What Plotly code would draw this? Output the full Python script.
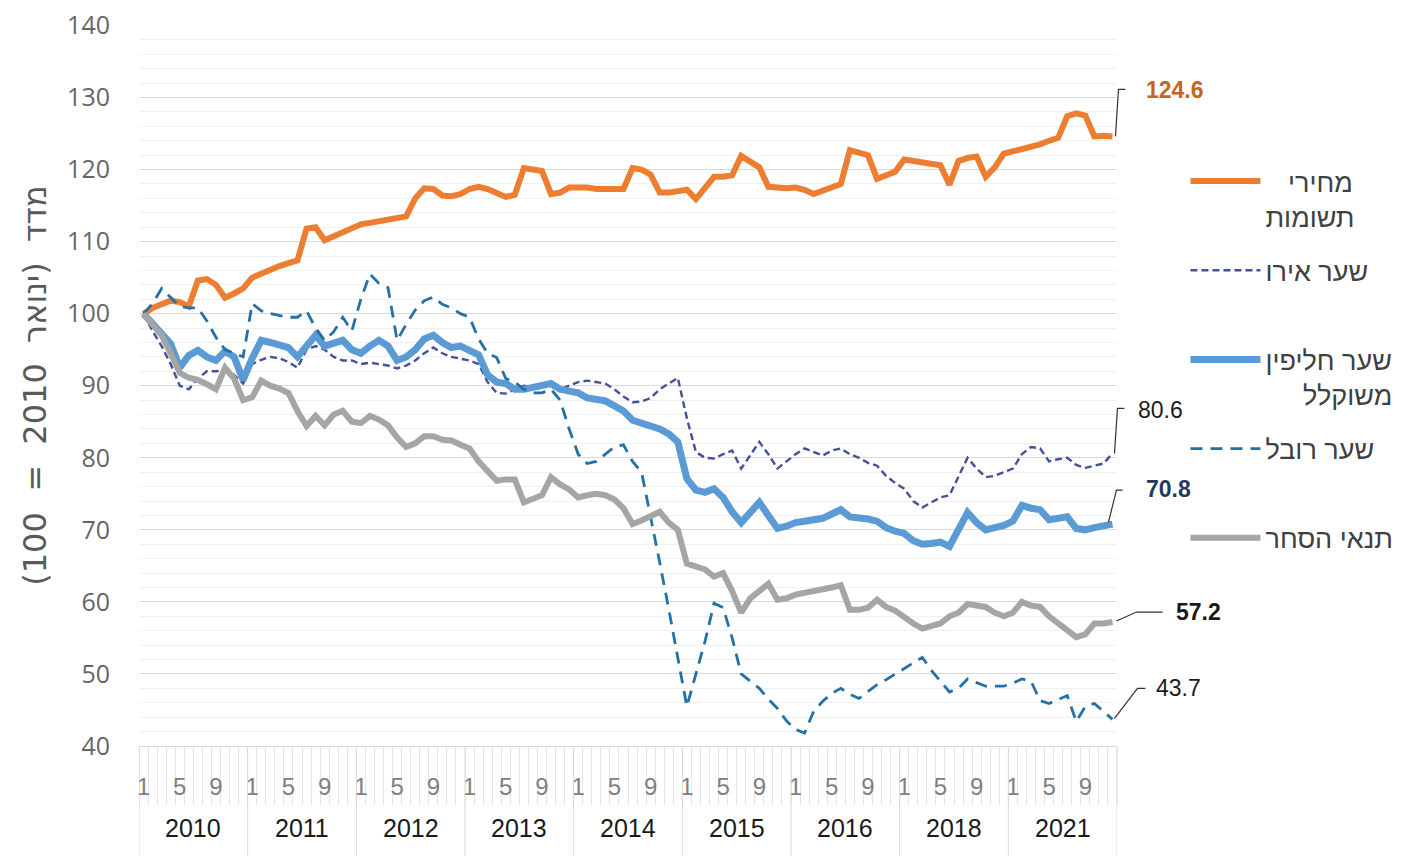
import plotly.graph_objects as go

years = ["2010", "2011", "2012", "2013", "2014", "2015", "2016", "2018", "2021"]
month_labels = ["1", "5", "9"]

input_prices = [
    100, 100.8, 101.3, 101.8, 101.6, 101.0, 104.6, 104.8, 104.0, 102.2, 102.8, 103.5,
    105.0, 105.6, 106.2, 106.6, 107.0, 107.4, 111.8, 112.0, 110.2, 110.8, 111.3, 112.0,
    112.4, 112.6, 112.8, 113.0, 113.2, 113.5, 116.0, 117.4, 117.3, 116.4, 116.3, 116.6,
    117.3, 117.6, 117.3, 116.8, 116.2, 116.5, 120.2, 120.0, 119.8, 116.6, 116.8, 117.5,
    117.6, 117.5, 117.3, 117.3, 117.2, 117.3, 120.2, 120.0, 119.3, 116.8, 116.8, 117.0,
    117.2, 115.9, 117.5, 119.0, 119.0, 119.2, 121.9, 121.2, 120.3, 117.6, 117.4, 117.4,
    117.5, 117.2, 116.6, 117.0, 117.5, 118.0, 122.7, 122.4, 122.0, 118.7, 119.2, 119.7,
    121.4, 121.2, 121.0, 120.9, 120.6, 117.9, 121.2, 121.6, 121.8, 119.0, 120.3, 122.2,
    122.5, 122.8, 123.0, 123.5, 124.0, 124.4, 127.4, 127.8, 127.5, 124.6, 124.7, 124.6,
]

euro = [
    100, 97.6, 95.5, 93.0, 90.0, 89.5, 91.0, 92.0, 92.0, 92.2, 91.5, 90.3,
    93.0, 93.6, 94.0, 93.8, 93.3, 92.5, 95.0, 95.5, 95.0, 94.0, 93.5, 93.5,
    93.0, 93.2, 93.0, 92.8, 92.4, 92.8, 93.5, 94.5, 95.3, 94.5, 94.0, 93.8,
    93.5, 93.0, 90.5, 89.0, 88.9, 89.5, 90.0, 89.8, 90.2, 89.8, 89.5, 90.0,
    90.5, 90.7, 90.5, 90.3, 89.5, 88.5, 87.7, 87.8, 88.3, 89.5, 90.3, 91.1,
    85.5, 80.8, 80.0, 79.9, 80.5, 81.0, 78.5, 80.3, 82.2, 80.5, 78.5, 79.5,
    80.5, 81.3, 80.8, 80.3, 81.0, 81.3, 80.5, 80.0, 79.3, 78.9, 77.5, 76.5,
    75.7, 74.0, 73.1, 73.8, 74.5, 74.8, 77.5, 80.0, 78.5, 77.3, 77.5, 78.0,
    78.5, 80.5, 81.5, 81.3, 79.5, 79.8, 80.0, 79.0, 78.6, 78.9, 79.2, 80.6,
]

weighted = [
    100, 98.6, 97.2, 95.8, 92.5, 94.2, 94.9, 94.0, 93.5, 94.8, 94.0, 90.8,
    93.8, 96.3, 96.0, 95.7, 95.3, 94.0, 95.5, 97.0, 95.5, 96.0, 96.3, 95.0,
    94.5, 95.5, 96.3, 95.5, 93.5, 94.0, 95.0, 96.5, 97.0, 96.0, 95.3, 95.5,
    95.0, 94.3, 91.5, 90.5, 90.3, 89.5, 89.5, 89.7, 90.0, 90.3, 89.5, 89.3,
    89.0, 88.3, 88.0, 87.9, 87.2, 86.5, 85.2, 84.8, 84.6, 84.0, 83.3, 82.2,
    77.1, 75.5, 75.2, 75.7, 74.5, 72.5, 71.0, 72.5, 73.8, 72.0, 70.2, 70.5,
    71.0, 71.2, 71.4, 71.6, 72.2, 72.8, 71.8, 71.7, 71.5, 71.2, 70.3, 69.8,
    69.5, 68.5, 68.0, 68.1, 68.3, 67.7, 70.0, 72.4, 71.0, 70.0, 70.3, 70.6,
    71.2, 73.4, 73.0, 72.8, 71.4, 71.6, 71.8, 70.2, 70.0, 70.3, 70.5, 70.8,
]

ruble = [
    100, 101.4, 103.5, 102.2, 101.0, 100.8, 100.8, 99.0, 96.7, 95.0, 94.5, 94.0,
    101.4, 100.4, 100.0, 99.8, 99.5, 99.5, 100.4, 98.0, 96.3, 97.5, 99.5, 97.6,
    102.0, 105.5, 104.2, 103.6, 96.3, 98.5, 100.5, 101.8, 102.3, 101.3, 100.8, 100.0,
    99.5, 96.5, 94.5, 93.9, 91.0, 90.5, 89.5, 89.0, 89.0, 89.5, 88.0, 84.0,
    80.5, 79.2, 79.5, 80.5, 81.5, 81.8, 79.5, 78.0, 72.0, 65.5, 59.0, 52.0,
    45.5, 50.0, 54.5, 59.8, 59.2, 55.0, 50.0, 49.0, 48.0, 46.5, 45.2, 43.5,
    42.3, 41.8, 44.8, 46.2, 47.3, 48.0, 47.2, 46.6, 47.5, 48.5, 49.2, 50.0,
    50.8, 51.5, 52.3, 50.5, 49.0, 47.5, 48.0, 49.3, 48.8, 48.3, 48.3, 48.3,
    48.7, 49.3, 49.0, 46.3, 45.9, 46.5, 47.0, 43.4, 45.5, 45.9, 44.8, 43.7,
]

terms_of_trade = [
    100, 98.6, 97.0, 94.5, 91.8, 91.1, 90.8, 90.2, 89.5, 92.5, 91.0, 88.0,
    88.4, 90.7, 90.0, 89.6, 89.0, 86.5, 84.4, 85.8, 84.5, 86.0, 86.5, 85.0,
    84.8, 85.8, 85.3, 84.5, 82.8, 81.5, 82.0, 83.0, 83.0, 82.5, 82.4, 81.8,
    81.3, 79.5, 78.0, 76.8, 77.0, 77.0, 73.8, 74.2, 74.8, 77.3, 76.3, 75.6,
    74.5, 74.8, 75.0, 74.8, 74.2, 73.0, 70.8, 71.3, 72.0, 72.5, 71.0, 70.0,
    65.3, 65.0, 64.5, 63.5, 64.0, 61.5, 58.5, 60.5, 61.5, 62.5, 60.3, 60.5,
    61.0, 61.2, 61.5, 61.7, 62.0, 62.3, 58.9, 58.9, 59.2, 60.3, 59.3, 58.8,
    57.8, 57.0, 56.3, 56.6, 57.0, 58.0, 58.5, 59.7, 59.5, 59.3, 58.5, 58.0,
    58.5, 60.0, 59.5, 59.3, 58.0, 57.0, 56.0, 55.1, 55.5, 57.0, 57.0, 57.2,
]

names = ["\u00a0\u00a0\u00a0מחירי<br>תשומות", "שער אירו<br>\u00a0", "שער חליפין<br>\u00a0\u00a0\u00a0\u00a0\u00a0משוקלל",
         "שער רובל<br>\u00a0", "תנאי הסחר<br>\u00a0"]

n = len(input_prices)
x = list(range(n))

HEB = "Liberation Sans, Arial, sans-serif"
NARROW = "Liberation Sans Narrow, Arial Narrow, Liberation Sans, sans-serif"

fig = go.Figure()
series = [
    (input_prices, names[0], dict(color="#ED7D31", width=6)),
    (euro, names[1], dict(color="#44509A", width=2.4, dash="7px,4px")),
    (weighted, names[2], dict(color="#5B9BD5", width=7)),
    (ruble, names[3], dict(color="#2471A8", width=2.8, dash="12px,8px")),
    (terms_of_trade, names[4], dict(color="#A5A5A5", width=6)),
]
for i, (vals, nm, ln) in enumerate(series):
    fig.add_trace(go.Scatter(x=x, y=vals, mode="lines", name=nm, line=ln,
                             legendgroup=f"g{i}", hoverinfo="skip"))

# month tick positions
tickvals, ticktext = [], []
for g in range(len(years)):
    for m, lab in zip([0, 4, 8], month_labels):
        tickvals.append(12 * g + m)
        ticktext.append(lab)

shapes = []
for g in range(len(years) + 1):
    shapes.append(dict(type="line", xref="x", yref="paper", x0=12 * g - 0.5, x1=12 * g - 0.5,
                       y0=0, y1=-0.155, line=dict(color="#D9D9D9", width=1)))

annotations = []
for g, yr in enumerate(years):
    annotations.append(dict(x=12 * g + 5.5, y=-0.114, xref="x", yref="paper", text=yr,
                            showarrow=False, font=dict(family=NARROW, size=25, color="#1a1a1a"),
                            yanchor="middle"))

# end labels with elbow leader lines
last = n - 1
last_paper = (last + 0.5) / n
end_labels = [
    (input_prices[last], "<b>124.6</b>", "#C8641E", 32, 46, "M3,0 L6,47 L13,47"),
    (euro[last], "80.6", "#1a1a1a", 24, 43, "M2,0 L5,45 L12,45"),
    (weighted[last], "<b>70.8</b>", "#22395C", 32, 35, "M-4,2 L4,34 L10,34"),
    (terms_of_trade[last], "<b>57.2</b>", "#1a1a1a", 62, 10, "M4,1 L24,10 L50,10"),
    (ruble[last], "43.7", "#1a1a1a", 42, 31, "M2,1 L25,31 L33,31"),
]
for val, txt, col, dx, dy, path in end_labels:
    annotations.append(dict(x=last, y=val, xref="x", yref="y", text=txt, showarrow=False,
                            xanchor="left", yanchor="middle", xshift=dx, yshift=dy,
                            font=dict(family="Liberation Sans, Arial", size=23, color=col)))
    shapes.append(dict(type="path", xref="paper", yref="y", xsizemode="pixel", ysizemode="pixel",
                       xanchor=last_paper, yanchor=val, path=path,
                       line=dict(color="#333333", width=1.2)))

fig.update_layout(
    width=1395, height=848,
    margin=dict(l=131, r=286, t=17, b=110, autoexpand=False),
    paper_bgcolor="white", plot_bgcolor="white",
    showlegend=True,
    legend=dict(x=1.07, y=0.817, xanchor="left", yanchor="top",
                font=dict(family=HEB, size=27, color="#404040"),
                valign="top", tracegroupgap=16, itemwidth=70,
                bgcolor="rgba(0,0,0,0)"),
    xaxis=dict(range=[-0.5, n - 0.5], tickmode="array", tickvals=tickvals, ticktext=ticktext,
               automargin=False, ticklabeloverflow="allow",
               ticks="", showgrid=False, zeroline=False, showline=True, linecolor="#D9D9D9",
               linewidth=1, tickangle=0,
               tickfont=dict(family=NARROW, size=24, color="#808080"),
               ticklabelstandoff=19,
               minor=dict(ticks="outside", tickmode="linear", tick0=-0.5, dtick=1,
                          ticklen=58, tickcolor="#E6E6E6", tickwidth=1)),
    yaxis=dict(range=[40, 140.06], dtick=10, tick0=40, showgrid=True, gridcolor="#D9D9D9",
               automargin=False, ticklabeloverflow="allow",
               gridwidth=1.3, zeroline=False, showline=False, ticks="",
               tickfont=dict(family="Open Sans, Liberation Sans", size=25, color="#666666"),
               ticklabelstandoff=28,
               minor=dict(dtick=2, showgrid=True, gridcolor="#F0F0F0", gridwidth=1),
               title=dict(text="\u202bמדד  (ינואר  2010  =  100)\u202c", standoff=10,
                          font=dict(family="DejaVu Sans, Liberation Sans", size=32, color="#595959"))),
    shapes=shapes,
    annotations=annotations,
)

fig.write_html("out.html")
